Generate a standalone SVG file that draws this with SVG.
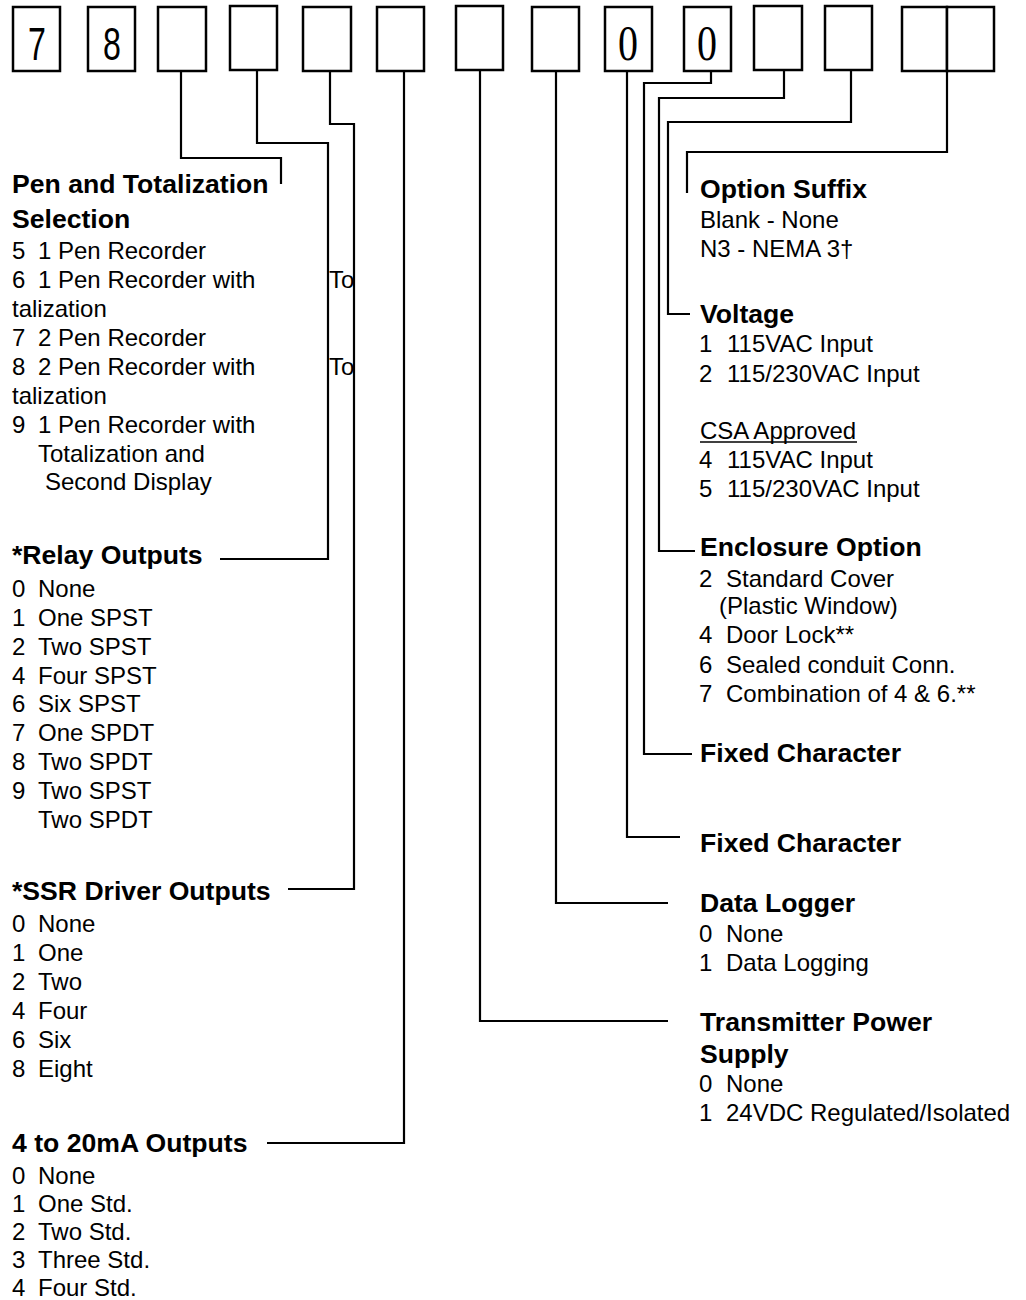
<svg xmlns="http://www.w3.org/2000/svg" width="1026" height="1300" viewBox="0 0 1026 1300">
<style>
  .box { fill: #fff; stroke: #000; stroke-width: 2.5; }
  .conn { fill: none; stroke: #000; stroke-width: 2.2; }
  text { font-family: "Liberation Sans", Arial, sans-serif; fill: #000; }
  .t { font-size: 26.6px; font-weight: bold; }
  .r { font-size: 24px; }
  .dsans { font-size: 46px; }
  .dserif { font-family: "Liberation Serif", "Times New Roman", serif; font-size: 50px; }
</style>
<rect width="1026" height="1300" fill="#fff"/>

<g id="code-boxes">
  <g id="box1"><rect class="box" x="13" y="7" width="47" height="64"/><text class="dsans" text-anchor="middle" transform="translate(37,60) scale(0.7,1)">7</text></g>
  <g id="box2"><rect class="box" x="88" y="7" width="47" height="64"/><text class="dsans" text-anchor="middle" transform="translate(112,60) scale(0.7,1)">8</text></g>
  <g id="box3"><rect class="box" x="158" y="7" width="48" height="64"/></g>
  <g id="box4"><rect class="box" x="230" y="6" width="47" height="64"/></g>
  <g id="box5"><rect class="box" x="303" y="7" width="48" height="64"/></g>
  <g id="box6"><rect class="box" x="377" y="7" width="47" height="64"/></g>
  <g id="box7"><rect class="box" x="456" y="6" width="47" height="64"/></g>
  <g id="box8"><rect class="box" x="532" y="7" width="47" height="64"/></g>
  <g id="box9"><rect class="box" x="605" y="7" width="47" height="64"/><text class="dserif" text-anchor="middle" transform="translate(628,60) scale(0.8,1)">0</text></g>
  <g id="box10"><rect class="box" x="684" y="7" width="47" height="64"/><text class="dserif" text-anchor="middle" transform="translate(707,60) scale(0.8,1)">0</text></g>
  <g id="box11"><rect class="box" x="754" y="6" width="48" height="64"/></g>
  <g id="box12"><rect class="box" x="825" y="6" width="47" height="64"/></g>
  <g id="box13"><rect class="box" x="902" y="7" width="45" height="64"/></g>
  <g id="box14"><rect class="box" x="947" y="7" width="47" height="64"/></g>
</g>

<g id="connectors">
  <path class="conn" d="M181,71 V158 H281 V184"/>
  <path class="conn" d="M257,70 V143 H328 V559 H220"/>
  <path class="conn" d="M330,71 V124 H354 V889 H288"/>
  <path class="conn" d="M404,71 V1143 H267"/>
  <path class="conn" d="M480,70 V1021 H668"/>
  <path class="conn" d="M556,71 V903 H668"/>
  <path class="conn" d="M627,71 V837 H680"/>
  <path class="conn" d="M711,71 V83 H644 V754 H692"/>
  <path class="conn" d="M784,70 V98 H659 V551 H695"/>
  <path class="conn" d="M851,70 V122 H668 V314 H690"/>
  <path class="conn" d="M947,71 V152 H687 V193"/>
</g>

<g id="pen-totalization">
  <text class="t" x="12" y="193">Pen and Totalization</text>
  <text class="t" x="12" y="228">Selection</text>
  <text class="r" y="259"><tspan x="12">5</tspan><tspan x="38">1 Pen Recorder</tspan></text>
  <text class="r" y="288"><tspan x="12">6</tspan><tspan x="38">1 Pen Recorder with</tspan><tspan x="329">To</tspan></text>
  <text class="r" x="12" y="317">talization</text>
  <text class="r" y="346"><tspan x="12">7</tspan><tspan x="38">2 Pen Recorder</tspan></text>
  <text class="r" y="375"><tspan x="12">8</tspan><tspan x="38">2 Pen Recorder with</tspan><tspan x="329">To</tspan></text>
  <text class="r" x="12" y="404">talization</text>
  <text class="r" y="433"><tspan x="12">9</tspan><tspan x="38">1 Pen Recorder with</tspan></text>
  <text class="r" x="38" y="462">Totalization and</text>
  <text class="r" x="45" y="490">Second Display</text>
</g>

<g id="relay-outputs">
  <text class="t" x="12" y="564">*Relay Outputs</text>
  <text class="r" y="597"><tspan x="12">0</tspan><tspan x="38">None</tspan></text>
  <text class="r" y="626"><tspan x="12">1</tspan><tspan x="38">One SPST</tspan></text>
  <text class="r" y="655"><tspan x="12">2</tspan><tspan x="38">Two SPST</tspan></text>
  <text class="r" y="684"><tspan x="12">4</tspan><tspan x="38">Four SPST</tspan></text>
  <text class="r" y="712"><tspan x="12">6</tspan><tspan x="38">Six SPST</tspan></text>
  <text class="r" y="741"><tspan x="12">7</tspan><tspan x="38">One SPDT</tspan></text>
  <text class="r" y="770"><tspan x="12">8</tspan><tspan x="38">Two SPDT</tspan></text>
  <text class="r" y="799"><tspan x="12">9</tspan><tspan x="38">Two SPST</tspan></text>
  <text class="r" x="38" y="828">Two SPDT</text>
</g>

<g id="ssr-outputs">
  <text class="t" x="12" y="900">*SSR Driver Outputs</text>
  <text class="r" y="932"><tspan x="12">0</tspan><tspan x="38">None</tspan></text>
  <text class="r" y="961"><tspan x="12">1</tspan><tspan x="38">One</tspan></text>
  <text class="r" y="990"><tspan x="12">2</tspan><tspan x="38">Two</tspan></text>
  <text class="r" y="1019"><tspan x="12">4</tspan><tspan x="38">Four</tspan></text>
  <text class="r" y="1048"><tspan x="12">6</tspan><tspan x="38">Six</tspan></text>
  <text class="r" y="1077"><tspan x="12">8</tspan><tspan x="38">Eight</tspan></text>
</g>

<g id="ma-outputs">
  <text class="t" x="12" y="1152">4 to 20mA Outputs</text>
  <text class="r" y="1184"><tspan x="12">0</tspan><tspan x="38">None</tspan></text>
  <text class="r" y="1212"><tspan x="12">1</tspan><tspan x="38">One Std.</tspan></text>
  <text class="r" y="1240"><tspan x="12">2</tspan><tspan x="38">Two Std.</tspan></text>
  <text class="r" y="1268"><tspan x="12">3</tspan><tspan x="38">Three Std.</tspan></text>
  <text class="r" y="1296"><tspan x="12">4</tspan><tspan x="38">Four Std.</tspan></text>
</g>

<g id="option-suffix">
  <text class="t" x="700" y="198">Option Suffix</text>
  <text class="r" x="700" y="228">Blank - None</text>
  <text class="r" x="700" y="257">N3 - NEMA 3†</text>
</g>

<g id="voltage">
  <text class="t" x="700" y="323">Voltage</text>
  <text class="r" y="352"><tspan x="699">1</tspan><tspan x="727">115VAC Input</tspan></text>
  <text class="r" y="382"><tspan x="699">2</tspan><tspan x="727">115/230VAC Input</tspan></text>
  <text class="r" x="700" y="439">CSA Approved</text>
  <line x1="700" y1="442" x2="857" y2="442" stroke="#000" stroke-width="1.5"/>
  <text class="r" y="468"><tspan x="699">4</tspan><tspan x="727">115VAC Input</tspan></text>
  <text class="r" y="497"><tspan x="699">5</tspan><tspan x="727">115/230VAC Input</tspan></text>
</g>

<g id="enclosure-option">
  <text class="t" x="700" y="556">Enclosure Option</text>
  <text class="r" y="587"><tspan x="699">2</tspan><tspan x="726">Standard Cover</tspan></text>
  <text class="r" x="719" y="614">(Plastic Window)</text>
  <text class="r" y="643"><tspan x="699">4</tspan><tspan x="726">Door Lock**</tspan></text>
  <text class="r" y="673"><tspan x="699">6</tspan><tspan x="726">Sealed conduit Conn.</tspan></text>
  <text class="r" y="702"><tspan x="699">7</tspan><tspan x="726">Combination of 4 &amp; 6.**</tspan></text>
</g>

<g id="fixed-character-1">
  <text class="t" x="700" y="762">Fixed Character</text>
</g>

<g id="fixed-character-2">
  <text class="t" x="700" y="852">Fixed Character</text>
</g>

<g id="data-logger">
  <text class="t" x="700" y="912">Data Logger</text>
  <text class="r" y="942"><tspan x="699">0</tspan><tspan x="726">None</tspan></text>
  <text class="r" y="971"><tspan x="699">1</tspan><tspan x="726">Data Logging</tspan></text>
</g>

<g id="transmitter-power">
  <text class="t" x="700" y="1031">Transmitter Power</text>
  <text class="t" x="700" y="1063">Supply</text>
  <text class="r" y="1092"><tspan x="699">0</tspan><tspan x="726">None</tspan></text>
  <text class="r" y="1121"><tspan x="699">1</tspan><tspan x="726">24VDC Regulated/Isolated</tspan></text>
</g>
</svg>
